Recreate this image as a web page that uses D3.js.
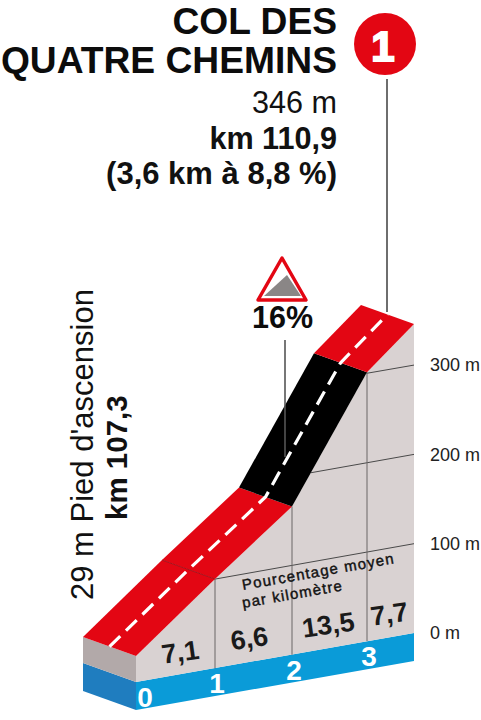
<!DOCTYPE html>
<html>
<head>
	<title>Col des Quatre Chemins</title>
	<script src="https://cdn.jsdelivr.net/npm/d3@7"></script>
	<style>
		html, body { margin: 0; padding: 0; background: #fff; }
		text { font-family: "Liberation Sans", Arial, sans-serif; }
	</style>
</head>
<body>
<div id="vis"></div>
<script type="text/javascript">
// values
var kms = [0, 1, 2, 3, 3.6];
var elevations = [29, 100, 166, 301, 346];
var percents = ["7,1", "6,6", "13,5", "7,7"];
var segmentColors = ["#e30613", "#e30613", "#000000", "#e30613"];
var kmLabels = [0, 1, 2, 3];
var elevationTicks = [0, 100, 200, 300];
var titleLines = ["COL DES", "QUATRE CHEMINS"];
var infoLines = ["346 m", "km 110,9", "(3,6 km à 8,8 %)"];
var steepestLabel = "16%";
var footLines = ["29 m Pied d'ascension", "km 107,3"];
var noteLines = ["Pourcentage moyen", "par kilomètre"];

const COLOR_RED = "#e30613";
const COLOR_LINE = "#4a4a4a";
const DEPTH_X = -53;
const DEPTH_Y = -19;
const BAND = 28;

var svg = d3.select("#vis").append("svg").attr("width", 481).attr("height", 720).style("display", "block");

var x = d3.scaleLinear().domain(kms).range([136, 215, 292, 367, 414]);
var baseY = d3.scaleLinear().domain([0, 3.6]).range([682, 633]);
var rise = d3.scaleLinear().domain([0, 346]).range([0, 309]);
var elevationAt = d3.scaleLinear().domain(kms).range(elevations);
var kmAt = d3.scaleLinear().domain(elevations).range(kms);

function pt(km, ele) {
	return [x(km), baseY(km) - rise(ele)];
}
function back(p) {
	return [p[0] + DEPTH_X, p[1] + DEPTH_Y];
}
function poly(points, fill) {
	return svg.append("polygon")
		.attr("points", points.map(function(p) { return p.join(","); }).join(" "))
		.attr("fill", fill);
}

// ground bands and the left side
var first = kms[0], last = kms[kms.length - 1];
var f0 = pt(first, 0);
var f1 = pt(last, 0);
poly([[f0[0], f0[1]], [f1[0], f1[1]], [f1[0], f1[1] + BAND], [f0[0], f0[1] + BAND]], "#0a9bd8");
poly([back(f0), f0, [f0[0], f0[1] + BAND], [back(f0)[0], back(f0)[1] + BAND]], "#1f7dbf");
poly([back(f0), f0, pt(first, elevations[0]), back(pt(first, elevations[0]))], "#b2a9a9");

// front face
var face = kms.map(function(k, i) { return pt(k, elevations[i]); });
face.push(f1);
face.push(f0);
poly(face, "#d9d2d2");

// elevation lines from the profile to the right edge
elevationTicks.slice(1).forEach(function(v) {
	var k = kmAt(v);
	var a = [x(k), baseY(k) - rise(v)];
	var b = pt(last, v);
	svg.append("line").attr("x1", a[0]).attr("y1", a[1]).attr("x2", b[0]).attr("y2", b[1])
		.attr("stroke", COLOR_LINE).attr("stroke-width", 1);
});

// km verticals
kmLabels.slice(1).forEach(function(k) {
	var a = pt(k, 0);
	var b = pt(k, elevationAt(k));
	svg.append("line").attr("x1", a[0]).attr("y1", a[1]).attr("x2", b[0]).attr("y2", b[1])
		.attr("stroke", "#6a6666").attr("stroke-width", 1);
});

// road
segmentColors.forEach(function(c, i) {
	var a = pt(kms[i], elevations[i]);
	var b = pt(kms[i + 1], elevations[i + 1]);
	poly([a, b, back(b), back(a)], c);
});
// km seam on the road
var seam = pt(1, elevationAt(1));
svg.append("line").attr("x1", seam[0]).attr("y1", seam[1]).attr("x2", back(seam)[0]).attr("y2", back(seam)[1])
	.attr("stroke", "#a8101a").attr("stroke-width", 1);

// dashed centre line
var centre = kms.map(function(k, i) {
	var p = pt(k, elevations[i]);
	return [p[0] + DEPTH_X / 2, p[1] + DEPTH_Y / 2];
});
svg.append("path").attr("d", d3.line()(centre))
	.attr("fill", "none").attr("stroke", "#fff").attr("stroke-width", 3.2).attr("stroke-dasharray", "15,8");

// right axis
var axisScale = d3.scaleLinear().domain([0, 346]).range([0, -309]);
var axis = svg.append("g").attr("transform", "translate(430,633)")
	.call(d3.axisRight(axisScale).tickValues(elevationTicks).tickSize(0).tickPadding(0)
		.tickFormat(function(d) { return d + " m"; }));
axis.select(".domain").remove();
axis.selectAll("text").attr("font-size", 18).attr("font-family", '"Liberation Sans"').attr("fill", "#222");

// km numbers on the blue band
svg.selectAll(".km").data(kmLabels).enter().append("text")
	.attr("class", "km")
	.attr("x", function(d) { return x(d) + (d == 0 ? 9 : 2); })
	.attr("y", function(d) { return baseY(d) + 25; })
	.attr("text-anchor", "middle")
	.attr("font-size", 28).attr("font-weight", "bold").attr("fill", "#fff")
	.text(function(d) { return d; });

// percentage per km
svg.selectAll(".pct").data(percents).enter().append("text")
	.attr("class", "pct")
	.attr("transform", function(d, i) {
		var mid = (kms[i] + kms[i + 1]) / 2;
		var nudge = i == 0 ? 6 : (i == 1 ? -3 : 0);
		return "translate(" + (x(mid) + nudge) + "," + (baseY(mid) - 14) + ") rotate(-8)";
	})
	.attr("text-anchor", "middle")
	.attr("font-size", 27).attr("font-weight", "bold").attr("fill", "#1a1a1a")
	.text(function(d) { return d; });

// note along the ground slope
svg.selectAll(".note").data(noteLines).enter().append("text")
	.attr("class", "note")
	.attr("transform", function(d, i) {
		return "translate(243," + (590 + i * 18) + ") rotate(-10)";
	})
	.attr("font-size", 15).attr("letter-spacing", 1.2).attr("fill", "#111")
	.attr("stroke", "#111").attr("stroke-width", 0.4)
	.text(function(d) { return d; });

// title block, first baseline kept low enough to stay inside the page
svg.selectAll(".title").data(titleLines).enter().append("text")
	.attr("class", "title")
	.attr("x", 337).attr("y", function(d, i) { return 33.8 + i * 38.8; })
	.attr("text-anchor", "end").attr("font-size", 37.2).attr("font-weight", "bold").attr("fill", "#0c0c0c")
	.text(function(d) { return d; });
svg.selectAll(".info").data(infoLines).enter().append("text")
	.attr("class", "info")
	.attr("x", 337).attr("y", function(d, i) { return 113 + i * 35.5; })
	.attr("text-anchor", "end").attr("fill", "#111")
	.attr("font-size", function(d, i) { return i == 2 ? 31 : 30.6; })
	.attr("font-weight", function(d, i) { return i == 0 ? "normal" : "bold"; })
	.text(function(d) { return d; });

// summit marker
svg.append("line").attr("x1", 387).attr("y1", 79).attr("x2", 387).attr("y2", 312)
	.attr("stroke", COLOR_LINE).attr("stroke-width", 1.6);
svg.append("circle").attr("cx", 385).attr("cy", 44).attr("r", 31).attr("fill", COLOR_RED);
svg.append("text").attr("x", 383).attr("y", 61).attr("text-anchor", "middle")
	.attr("font-size", 42).attr("font-weight", "bold").attr("fill", "#fff")
	.attr("stroke", "#fff").attr("stroke-width", 2).text("1");

// steepest gradient sign
svg.append("line").attr("x1", 285).attr("y1", 340).attr("x2", 285).attr("y2", 457)
	.attr("stroke", "#555").attr("stroke-width", 1.6);
svg.append("path").attr("d", "M282,258 L306,300 L258,300 Z")
	.attr("fill", "#fff").attr("stroke", COLOR_RED).attr("stroke-width", 3.5).attr("stroke-linejoin", "round");
svg.append("path").attr("d", "M264,296 L287,275 L301,296 Z").attr("fill", "#8a8686");
svg.append("text").attr("x", 282.5).attr("y", 328).attr("text-anchor", "middle")
	.attr("font-size", 30.5).attr("font-weight", "bold").attr("fill", "#0c0c0c").text(steepestLabel);

// foot of the climb
svg.selectAll(".foot").data(footLines).enter().append("text")
	.attr("class", "foot")
	.attr("transform", function(d, i) {
		return "translate(" + (i == 0 ? 93 : 127) + "," + (i == 0 ? 600 : 520) + ") rotate(-90)";
	})
	.attr("font-size", function(d, i) { return i == 0 ? 31 : 29.5; })
	.attr("font-weight", function(d, i) { return i == 0 ? "normal" : "bold"; })
	.attr("fill", "#111")
	.text(function(d) { return d; });
</script>
</body>
</html>
